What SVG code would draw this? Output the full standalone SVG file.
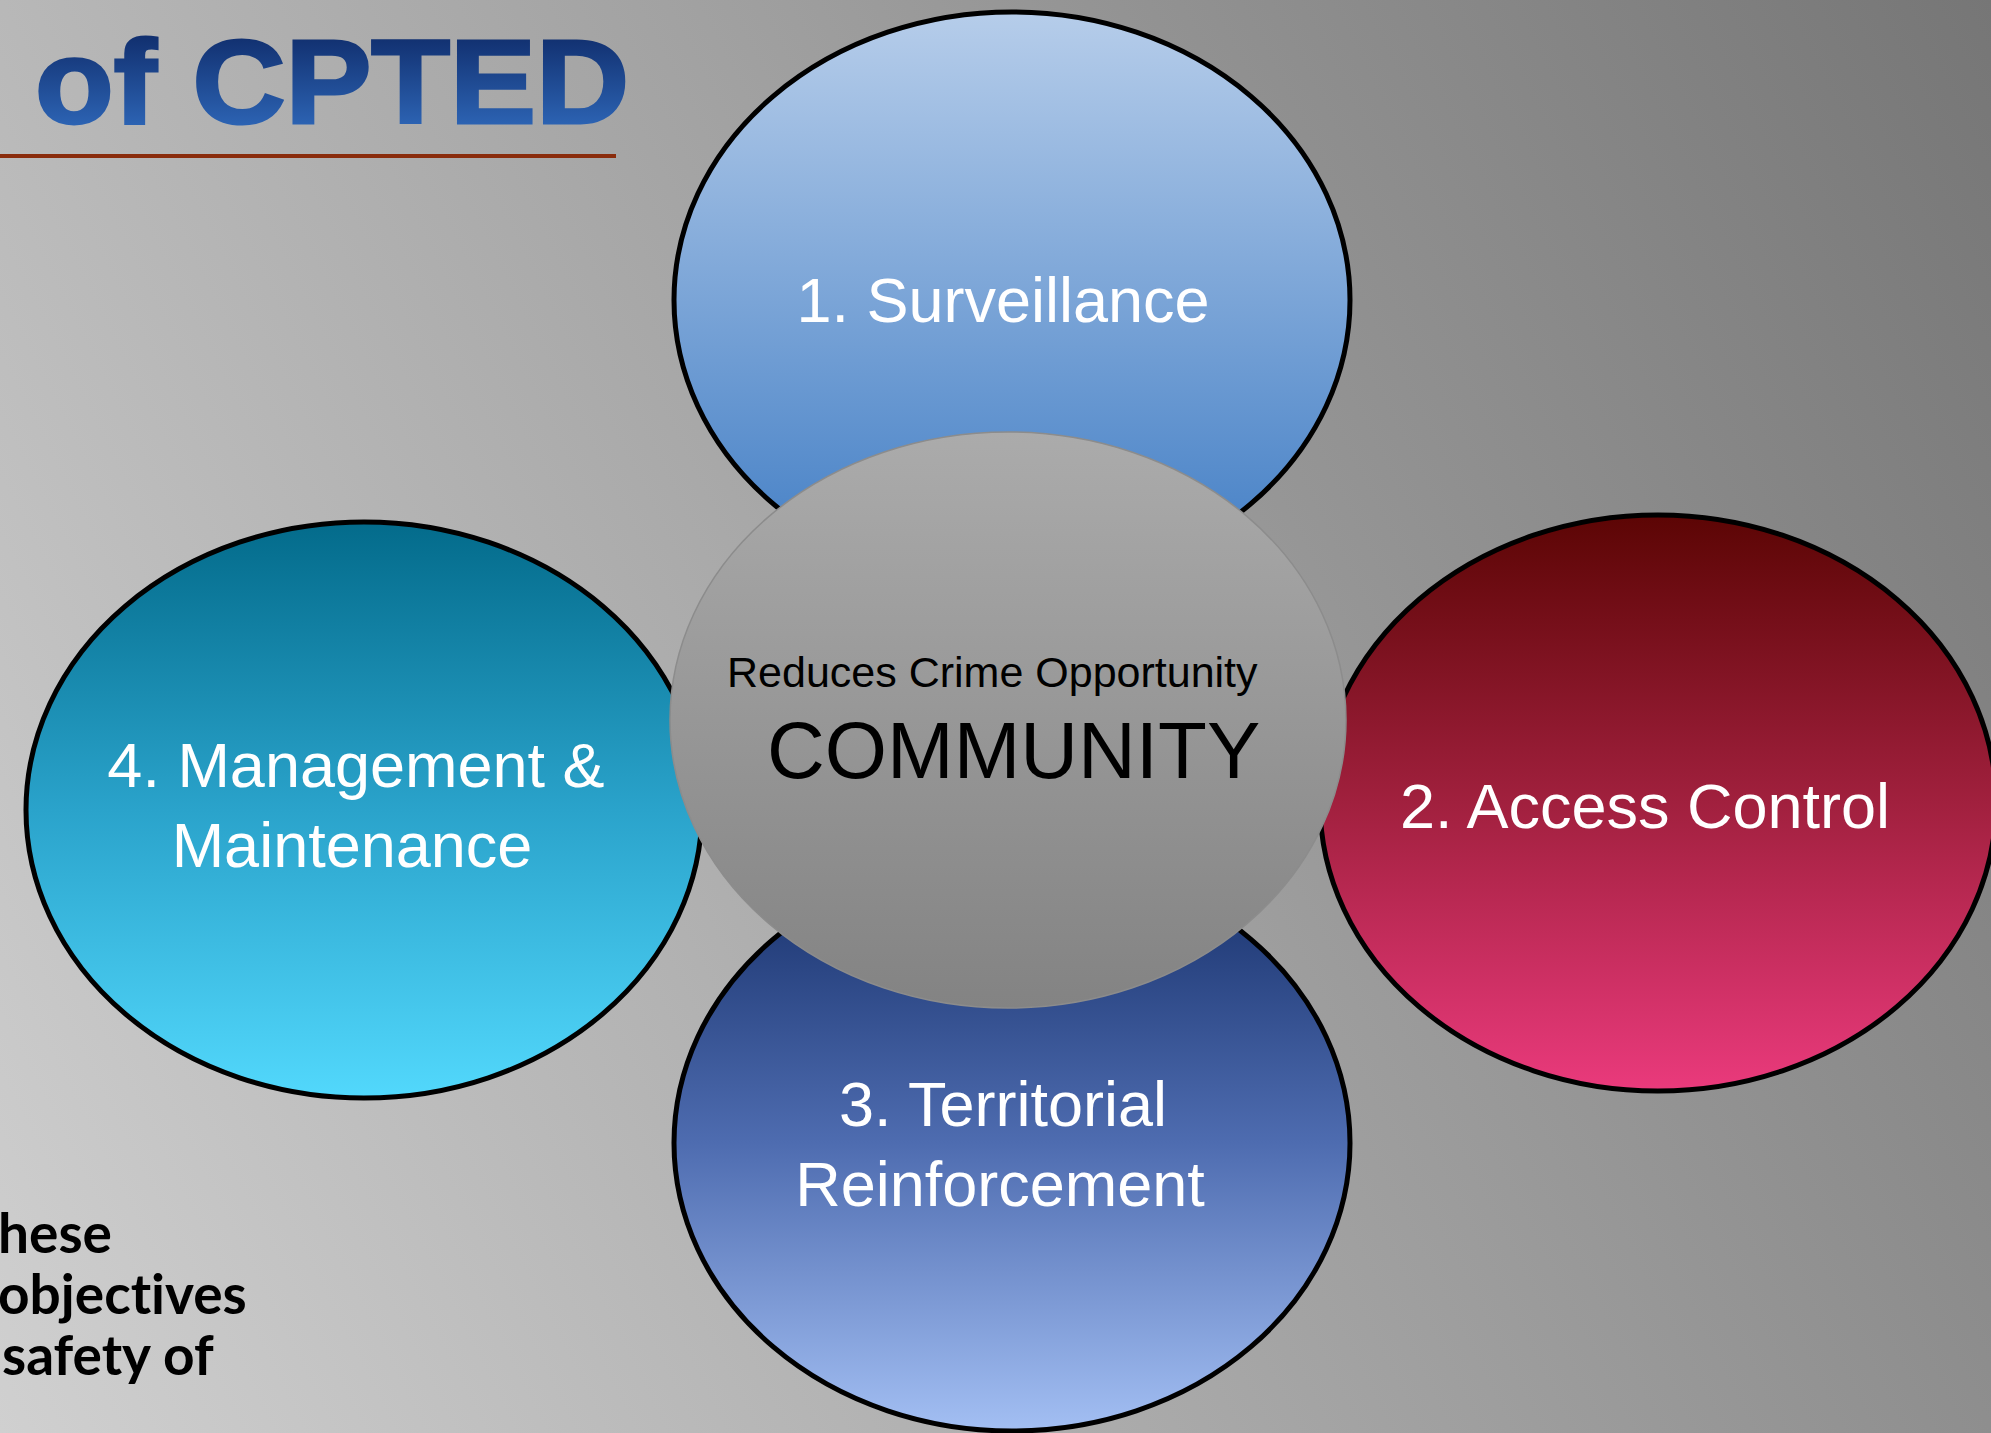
<svg xmlns="http://www.w3.org/2000/svg" width="1991" height="1433" viewBox="0 0 1991 1433">
  <defs>
    <linearGradient id="bg" gradientUnits="userSpaceOnUse" x1="0" y1="1433" x2="2163" y2="338">
      <stop offset="0" stop-color="#d0d0d0"/>
      <stop offset="1" stop-color="#767676"/>
    </linearGradient>
    <linearGradient id="title" x1="0" y1="0" x2="0" y2="1">
      <stop offset="0" stop-color="#0b2460"/>
      <stop offset="1" stop-color="#3370c4"/>
    </linearGradient>
    <linearGradient id="g-surv" x1="0" y1="0" x2="0" y2="1">
      <stop offset="0" stop-color="#b6cdea"/>
      <stop offset="1" stop-color="#3f7cc4"/>
    </linearGradient>
    <linearGradient id="g-access" x1="0" y1="0" x2="0" y2="1">
      <stop offset="0" stop-color="#5c0504"/>
      <stop offset="0.5" stop-color="#a1203e"/>
      <stop offset="1" stop-color="#ea3a7c"/>
    </linearGradient>
    <linearGradient id="g-terr" x1="0" y1="0" x2="0" y2="1">
      <stop offset="0" stop-color="#152e68"/>
      <stop offset="0.5" stop-color="#4e6cb0"/>
      <stop offset="1" stop-color="#a3bff3"/>
    </linearGradient>
    <linearGradient id="g-mgmt" x1="0" y1="0" x2="0" y2="1">
      <stop offset="0" stop-color="#036b8b"/>
      <stop offset="0.5" stop-color="#2aa3cb"/>
      <stop offset="1" stop-color="#52d8fc"/>
    </linearGradient>
    <linearGradient id="g-core" x1="0" y1="0" x2="0" y2="1">
      <stop offset="0" stop-color="#ababab"/>
      <stop offset="1" stop-color="#838383"/>
    </linearGradient>
    <style>
      .petal { stroke: #000; stroke-width: 5; }
      .petal-label { font-family: "Liberation Sans", Arial, sans-serif; font-size: 63px; fill: #fff; text-anchor: middle; }
      .core-label { font-family: "Liberation Sans", Arial, sans-serif; fill: #000; }
      .side-text { font-family: Lato, "Open Sans", sans-serif; font-weight: bold; font-size: 55px; fill: #000; font-variant-ligatures: none; }
    </style>
  </defs>

  <!-- backdrop -->
  <rect width="1991" height="1433" fill="url(#bg)"/>

  <!-- heading -->
  <text x="35" y="123" font-family="'Liberation Sans', Arial, sans-serif" font-weight="bold" font-size="118" fill="url(#title)" stroke="url(#title)" stroke-width="3" textLength="594" lengthAdjust="spacingAndGlyphs">of CPTED</text>
  <rect x="0" y="154" width="616" height="4" fill="#8a2c0c"/>

  <!-- body text running off the left edge -->
  <g id="side-text">
    <text class="side-text" x="-2" y="1253">hese</text>
    <text class="side-text" x="-2" y="1314">objectives</text>
    <text class="side-text" x="2" y="1375">safety of</text>
  </g>

  <g id="connectors"/>

  <g id="surveillance">
    <ellipse class="petal" cx="1012" cy="300" rx="338" ry="288" fill="url(#g-surv)"/>
    <text class="petal-label" x="1003" y="322">1. Surveillance</text>
  </g>

  <g id="access-control">
    <ellipse class="petal" cx="1658" cy="803" rx="338" ry="288" fill="url(#g-access)"/>
    <text class="petal-label" x="1645" y="828">2. Access Control</text>
  </g>

  <g id="territorial-reinforcement">
    <ellipse class="petal" cx="1012" cy="1143" rx="338" ry="288" fill="url(#g-terr)"/>
    <text class="petal-label" x="1003" y="1126">3. Territorial</text>
    <text class="petal-label" x="1000" y="1206">Reinforcement</text>
  </g>

  <g id="management-maintenance">
    <ellipse class="petal" cx="364" cy="810" rx="338" ry="288" fill="url(#g-mgmt)"/>
    <text class="petal-label" x="356" y="787">4. Management &amp;</text>
    <text class="petal-label" x="352" y="867">Maintenance</text>
  </g>

  <g id="community">
    <ellipse cx="1008" cy="720" rx="338" ry="288" fill="url(#g-core)" stroke="#8c8c8c" stroke-width="1.5"/>
    <text class="core-label" x="727" y="687" font-size="43">Reduces Crime Opportunity</text>
    <text class="core-label" x="767" y="778" font-size="80">COMMUNITY</text>
  </g>
</svg>
